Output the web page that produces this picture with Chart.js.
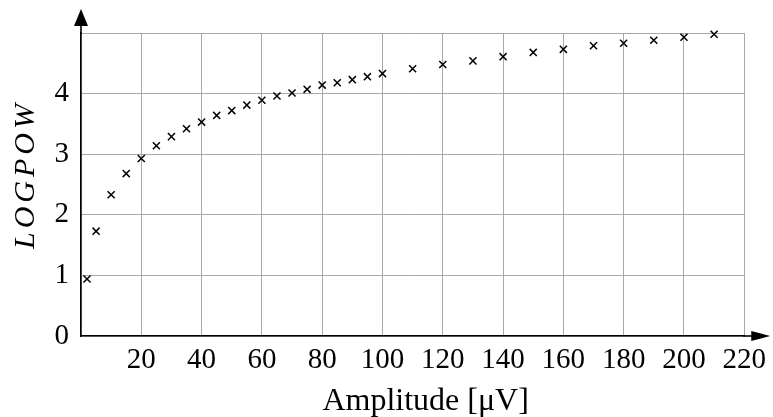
<!DOCTYPE html>
<html>
<head>
<meta charset="utf-8">
<script src="https://cdn.jsdelivr.net/npm/chart.js@4"></script>
<style>
  html, body { margin: 0; padding: 0; background: #fff; }
  #wrap { width: 773px; height: 417px; }
</style>
</head>
<body>
<div id="wrap"><canvas id="chart" width="773" height="417"></canvas></div>
<script>
// Amplitude values (x) and LOGPOW readings (y)
const amplitudes = [2, 5, 10, 15, 20, 25, 30, 35, 40, 45, 50, 55, 60, 65, 70, 75, 80, 85, 90, 95, 100,
  110, 120, 130, 140, 150, 160, 170, 180, 190, 200, 210];
const logpow = [0.94, 1.73, 2.33, 2.68, 2.93, 3.14, 3.29, 3.42, 3.53, 3.64, 3.72, 3.81, 3.89, 3.96, 4.01, 4.07,
  4.14, 4.18, 4.23, 4.28, 4.33, 4.41, 4.48, 4.54, 4.61, 4.68, 4.73, 4.79, 4.83, 4.88, 4.93, 4.98];

const xLabel = 'Amplitude [μV]';
const yLabel = 'LOGPOW';
const serif = '"Liberation Serif", "DejaVu Serif", serif';

// Draw white background, axis arrows and the two axis titles
const axisDecor = {
  id: 'axisDecor',
  beforeDraw(chart) {
    const ctx = chart.ctx;
    ctx.save();
    ctx.fillStyle = '#fff';
    ctx.fillRect(0, 0, chart.width, chart.height);
    ctx.restore();
  },
  afterDraw(chart) {
    const ctx = chart.ctx;
    const a = chart.chartArea;
    ctx.save();
    ctx.strokeStyle = '#000';
    ctx.fillStyle = '#000';
    ctx.lineWidth = 1.6;

    // x axis extension + arrow head
    ctx.beginPath();
    ctx.moveTo(a.right - 1, a.bottom);
    ctx.lineTo(a.right + 8, a.bottom);
    ctx.stroke();
    ctx.beginPath();
    ctx.moveTo(a.right + 7, a.bottom - 5);
    ctx.lineTo(a.right + 26, a.bottom);
    ctx.lineTo(a.right + 7, a.bottom + 5);
    ctx.closePath();
    ctx.fill();

    // y axis extension + arrow head
    ctx.beginPath();
    ctx.moveTo(a.left, a.top + 1);
    ctx.lineTo(a.left, a.top - 8);
    ctx.stroke();
    ctx.beginPath();
    ctx.moveTo(a.left - 7, a.top - 7);
    ctx.lineTo(a.left, a.top - 24);
    ctx.lineTo(a.left + 7, a.top - 7);
    ctx.closePath();
    ctx.fill();

    // axis titles
    ctx.font = '32px ' + serif;
    ctx.textAlign = 'center';
    ctx.textBaseline = 'alphabetic';
    ctx.fillText(xLabel, (a.left + a.right + 26) / 2, 410);

    ctx.translate(34, (a.top - 24 + a.bottom) / 2 + 2);
    ctx.rotate(-Math.PI / 2);
    ctx.font = 'italic 30px ' + serif;
    ctx.letterSpacing = '4px';
    ctx.textBaseline = 'alphabetic';
    ctx.fillText(yLabel, 0, 0);
    ctx.restore();
  }
};

new Chart(document.getElementById('chart'), {
  type: 'scatter',
  data: {
    datasets: [{
      data: amplitudes.map((x, i) => ({ x: x, y: logpow[i] })),
      pointStyle: 'crossRot',
      pointRadius: 5,
      pointHoverRadius: 5,
      borderColor: '#000',
      backgroundColor: '#000',
      borderWidth: 1.5
    }]
  },
  options: {
    responsive: false,
    animation: false,
    clip: false,
    layout: { padding: { left: 0, right: 27, top: 33, bottom: 0 } },
    plugins: {
      legend: { display: false },
      tooltip: { enabled: false }
    },
    scales: {
      x: {
        type: 'linear',
        min: 0,
        max: 220,
        afterFit(scale) { scale.height = 81; },
        ticks: {
          stepSize: 20,
          padding: 7,
          color: '#000',
          font: { family: serif, size: 29 },
          maxRotation: 0,
          callback: v => (v === 0 ? '' : v)
        },
        grid: { color: '#a8a8a8', lineWidth: 1, drawTicks: false },
        border: { color: '#000', width: 1.6 }
      },
      y: {
        type: 'linear',
        min: 0,
        max: 5,
        afterFit(scale) { scale.width = 81; },
        ticks: {
          stepSize: 1,
          padding: 12,
          color: '#000',
          font: { family: serif, size: 29 },
          callback: v => (v === 5 ? '' : v)
        },
        grid: { color: '#a8a8a8', lineWidth: 1, drawTicks: false },
        border: { color: '#000', width: 1.6 }
      }
    }
  },
  plugins: [axisDecor]
});
</script>
</body>
</html>
